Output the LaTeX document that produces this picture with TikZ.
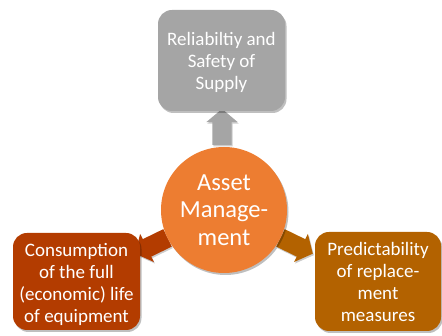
\documentclass[tikz,border=0pt]{standalone}
\usepackage{fontspec}
\setmainfont{Carlito}
\usetikzlibrary{shapes.arrows,shadows}
\definecolor{cgrey}{HTML}{A5A5A5}
\definecolor{corange}{HTML}{ED7D31}
\definecolor{cred}{HTML}{B33C00}
\definecolor{cbrown}{HTML}{B36200}
\tikzset{
  sat/.style={rounded corners=14pt, draw=none,
    drop shadow={shadow xshift=1.5pt, shadow yshift=-2pt, opacity=0.25, fill=black}},
  sattext/.style={text=white, align=center, font=\fontsize{19}{22}\selectfont, inner sep=0pt},
  blockarrow/.style={single arrow, draw=none, minimum width=31pt,
    single arrow head extend=6pt, single arrow tip angle=100, inner xsep=0pt, inner ysep=9.5pt,
    minimum height=36pt,
    drop shadow={shadow xshift=1pt, shadow yshift=-1.5pt, opacity=0.2, fill=black}},
}
\begin{document}
\begin{tikzpicture}[x=1pt,y=-1pt]
\useasboundingbox (0,0) rectangle (442,336);
% arrows
\node[blockarrow, fill=cgrey, rotate=90] (atop) at (222,131) {};
\node[blockarrow, fill=cred, rotate=206] (aleft) at (155,244) {};
\node[blockarrow, fill=cbrown, rotate=-26] (aright) at (293,244) {};
% centre
\node[circle, fill=corange, minimum size=126pt, inner sep=0pt, text=white, align=center,
  font=\fontsize{24.5}{27.5}\selectfont,
  drop shadow={shadow xshift=1.5pt, shadow yshift=-2pt, opacity=0.25, fill=black}]
  (am) at (224,210) {Asset\\Manage-\\ment};
% satellites
\path[sat, fill=cgrey] (158,10) rectangle (285,111);
\node[sattext] (top) at (221.5,62) {Reliabiltiy and\\Safety of\\Supply};
\path[sat, fill=cred] (13,233) rectangle (140,330);
\node[sattext] (left) at (76.5,284) {Consumption\\of the full\\(economic) life\\of equipment};
\path[sat, fill=cbrown] (315,232) rectangle (441,331);
\node[sattext] (right) at (378,282) {Predictability\\of replace-\\ment\\measures};
\end{tikzpicture}
\end{document}
